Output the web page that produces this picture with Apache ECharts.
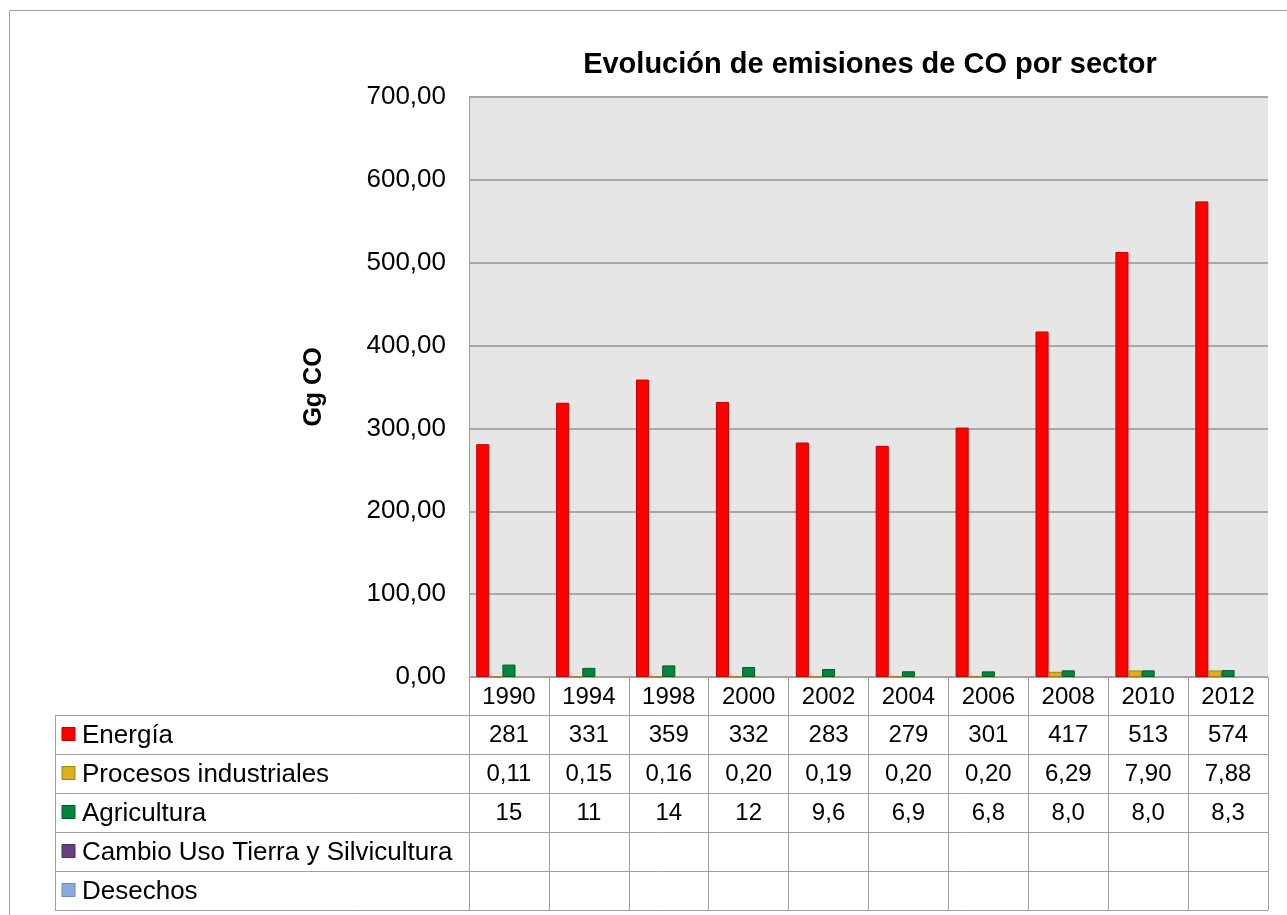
<!DOCTYPE html>
<html>
<head>
<meta charset="utf-8">
<script src="https://cdn.jsdelivr.net/npm/echarts@6/dist/echarts.min.js"></script>
<style>
html,body{margin:0;padding:0;background:#fff;}
#chart{width:1287px;height:915px;}
</style>
</head>
<body>
<div id="chart"></div>
<script>
const categories = ['1990','1994','1998','2000','2002','2004','2006','2008','2010','2012'];
const seriesNames = ['Energía','Procesos industriales','Agricultura','Cambio Uso Tierra y Silvicultura','Desechos'];
const energia = [281, 331, 359, 332, 283, 279, 301, 417, 513, 574];
const procesos = [0.11, 0.15, 0.16, 0.20, 0.19, 0.20, 0.20, 6.29, 7.90, 7.88];
const agricultura = [15, 11, 14, 12, 9.6, 6.9, 6.8, 8.0, 8.0, 8.3];
const cambioUso = [null, null, null, null, null, null, null, null, null, null];
const desechos = [null, null, null, null, null, null, null, null, null, null];
const colors = ['#ff0000', '#dcb021', '#00873e', '#6b3f7f', '#8eaadb'];
const borders = ['#c00000', '#a0800f', '#005c2a', '#4a2a58', '#6a88b8'];

const seriesData = [energia, procesos, agricultura, cambioUso, desechos];
const fmt = [
  v => v == null ? '' : v.toFixed(0),
  v => v == null ? '' : v.toFixed(2).replace('.', ','),
  v => v == null ? '' : v.toPrecision(2).replace('.', ','),
  v => v == null ? '' : String(v),
  v => v == null ? '' : String(v)
];

const FONT = '"Liberation Sans", Arial, sans-serif';
const gridLeft = 469, gridRight = 19, gridTop = 97, gridBottom = 238;
const rowH = 39;
const tableTop = 715;
const tableLeft = 55;
const lineColor = '#a0a0a0';

const chart = echarts.init(document.getElementById('chart'), null, {renderer: 'canvas'});

const option = {
  animation: false,
  backgroundColor: '#ffffff',
  title: {
    text: 'Evolución de emisiones de CO por sector',
    left: 865, top: 45, textAlign: 'center',
    textStyle: {fontFamily: FONT, fontSize: 29, fontWeight: 'bold', color: '#000'}
  },
  grid: {
    left: gridLeft, right: gridRight, top: gridTop, bottom: gridBottom,
    show: true, backgroundColor: '#e6e6e6', borderWidth: 0
  },
  xAxis: {
    type: 'category',
    data: categories,
    axisLine: {show: true, lineStyle: {color: lineColor, width: 1}},
    axisTick: {show: true, length: 233, lineStyle: {color: lineColor, width: 1}},
    axisLabel: {fontFamily: FONT, fontSize: 24, color: '#000', margin: 8},
    splitLine: {show: false}
  },
  yAxis: {
    type: 'value',
    min: 0, max: 700, interval: 100,
    name: 'Gg CO',
    nameLocation: 'middle',
    nameGap: 142,
    nameRotate: 90,
    nameTextStyle: {fontFamily: FONT, fontSize: 25, fontWeight: 'bold', color: '#000'},
    axisLine: {show: true, lineStyle: {color: lineColor, width: 1}},
    axisTick: {show: false},
    axisLabel: {
      fontFamily: FONT, fontSize: 26, color: '#000', margin: 23,
      formatter: v => v.toFixed(2).replace('.', ',')
    },
    splitLine: {show: true, lineStyle: {color: '#a8a8a8', width: 2}}
  },
  series: seriesNames.map((name, i) => ({
    name: name,
    type: 'bar',
    data: seriesData[i],
    barGap: '0%',
    barCategoryGap: '18%',
    itemStyle: {color: colors[i], borderColor: borders[i], borderWidth: 1}
  }))
};
chart.setOption(option);

const graphics = [];
graphics.push({type: 'line', shape: {x1: 9.5, y1: 10.5, x2: 1287, y2: 10.5}, style: {stroke: lineColor, lineWidth: 1}, silent: true});
graphics.push({type: 'line', shape: {x1: 9.5, y1: 10.5, x2: 9.5, y2: 915}, style: {stroke: lineColor, lineWidth: 1}, silent: true});

const rightEdge = 1287 - gridRight;
for (let r = 0; r <= seriesNames.length; r++) {
  const y = tableTop + r * rowH + 0.5;
  graphics.push({type: 'line', shape: {x1: tableLeft, y1: y, x2: rightEdge, y2: y}, style: {stroke: lineColor, lineWidth: 1}, silent: true});
}
graphics.push({type: 'line', shape: {x1: tableLeft + 0.5, y1: tableTop, x2: tableLeft + 0.5, y2: tableTop + seriesNames.length * rowH}, style: {stroke: lineColor, lineWidth: 1}, silent: true});

seriesNames.forEach((name, r) => {
  const cy = tableTop + r * rowH + rowH / 2;
  graphics.push({type: 'rect', shape: {x: 62, y: cy - 7, width: 13, height: 13}, style: {fill: colors[r], stroke: borders[r], lineWidth: 1}, silent: true});
  graphics.push({type: 'text', x: 82, y: cy + 1, style: {text: name, fontFamily: FONT, fontSize: 26, fill: '#000', align: 'left', verticalAlign: 'middle'}, silent: true});
  seriesData[r].forEach((v, c) => {
    const cx = chart.convertToPixel({xAxisIndex: 0}, categories[c]);
    graphics.push({type: 'text', x: cx, y: cy + 1, style: {text: fmt[r](v), fontFamily: FONT, fontSize: 24, fill: '#000', align: 'center', verticalAlign: 'middle'}, silent: true});
  });
});

chart.setOption({graphic: {elements: graphics}});
</script>
</body>
</html>
